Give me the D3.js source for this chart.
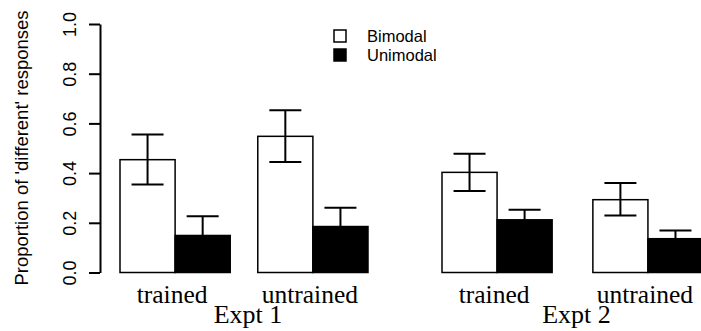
<!DOCTYPE html>
<html>
<head>
<meta charset="utf-8">
<script src="https://cdn.jsdelivr.net/npm/d3@7"></script>
<style>
  body { margin: 0; background: #fff; }
  svg { display: block; }
</style>
</head>
<body>
<div id="chart"></div>
<script>
// values
var experiments = ["Expt 1", "Expt 2"];
var conditions = ["trained", "untrained"];
var series = ["Bimodal", "Unimodal"];

// one entry per experiment x condition: E1 trained, E1 untrained, E2 trained, E2 untrained
var bimodalMean = [0.454, 0.548, 0.403, 0.293];
var bimodalLow  = [0.354, 0.445, 0.328, 0.229];
var bimodalHigh = [0.555, 0.653, 0.478, 0.360];
var unimodalMean = [0.149, 0.185, 0.212, 0.136];
var unimodalLow  = [0.072, 0.109, 0.171, 0.103];
var unimodalHigh = [0.226, 0.261, 0.253, 0.169];

var yTicks = [0, 0.2, 0.4, 0.6, 0.8, 1.0];

var width = 701, height = 331;

var svg = d3.select("#chart").append("svg")
  .attr("width", width)
  .attr("height", height);

var y = d3.scaleLinear().domain([0, 1]).range([272.5, 24]);

// each experiment gets its own stretch of the x axis
var exptRange = {"Expt 1": [120, 368], "Expt 2": [442, 703]};
var exptPad = {"Expt 1": 0.2, "Expt 2": 0.27};

var rows = [];
experiments.forEach(function(e, ei) {
  conditions.forEach(function(c, ci) {
    var i = ei * 2 + ci;
    rows.push({expt: e, cond: c, vals: [
      {s: "Bimodal", mean: bimodalMean[i], lo: bimodalLow[i], hi: bimodalHigh[i]},
      {s: "Unimodal", mean: unimodalMean[i], lo: unimodalLow[i], hi: unimodalHigh[i]}
    ]});
  });
});

var xGroup = {};
experiments.forEach(function(e) {
  xGroup[e] = d3.scaleBand().domain(conditions).range(exptRange[e]).paddingInner(exptPad[e]);
});
var fill = d3.scaleOrdinal().domain(series).range(["#fff", "#000"]);

rows.forEach(function(r) {
  var gx = xGroup[r.expt];
  var xs = d3.scaleBand().domain(series).range([0, gx.bandwidth()]);
  var g = svg.append("g").attr("transform", "translate(" + gx(r.cond) + ",0)");

  g.selectAll("rect").data(r.vals).enter().append("rect")
    .attr("x", function(d) { return xs(d.s); })
    .attr("y", function(d) { return y(d.mean); })
    .attr("width", xs.bandwidth())
    .attr("height", function(d) { return y(0) - y(d.mean); })
    .attr("fill", function(d) { return fill(d.s); })
    .attr("stroke", "#000")
    .attr("stroke-width", 1.5);

  // error bars
  r.vals.forEach(function(d) {
    var cx = xs(d.s) + xs.bandwidth() / 2;
    g.append("line").attr("x1", cx).attr("x2", cx)
      .attr("y1", y(d.lo)).attr("y2", y(d.hi))
      .attr("stroke", "#000").attr("stroke-width", 2);
    [d.lo, d.hi].forEach(function(v) {
      g.append("line").attr("x1", cx - 16).attr("x2", cx + 16)
        .attr("y1", y(v)).attr("y2", y(v))
        .attr("stroke", "#000").attr("stroke-width", 2);
    });
  });

  svg.append("text")
    .attr("x", gx(r.cond) + gx.bandwidth() / 2 - 3)
    .attr("y", 303)
    .attr("text-anchor", "middle")
    .style("font-family", "'Liberation Serif', 'Times New Roman', serif")
    .style("font-size", "25.5px")
    .text(r.cond);
});

experiments.forEach(function(e) {
  var rg = exptRange[e];
  svg.append("text")
    .attr("x", (rg[0] + rg[1]) / 2 + 4)
    .attr("y", 323)
    .attr("text-anchor", "middle")
    .style("font-family", "'Liberation Serif', 'Times New Roman', serif")
    .style("font-size", "26px")
    .text(e);
});

// y axis
var yAxis = svg.append("g")
  .attr("transform", "translate(100,0)")
  .call(d3.axisLeft(y).tickValues(yTicks).tickFormat(d3.format(".1f")).tickSize(11).tickSizeOuter(0));
yAxis.select(".domain").attr("stroke-width", 2);
yAxis.selectAll(".tick line").attr("stroke-width", 2);
yAxis.selectAll(".tick text")
  .attr("transform", "rotate(-90)")
  .attr("x", 0)
  .attr("y", -24)
  .attr("dy", 0)
  .attr("text-anchor", "middle")
  .style("font-family", "'Liberation Sans', Arial, sans-serif")
  .style("font-size", "18px")
  .attr("fill", "#000");

svg.append("text")
  .attr("transform", "translate(28,148) rotate(-90)")
  .attr("text-anchor", "middle")
  .style("font-family", "'Liberation Sans', Arial, sans-serif")
  .style("font-size", "18.5px")
  .text("Proportion of 'different' responses");

// legend
var legend = svg.append("g").attr("transform", "translate(334,29)");
series.forEach(function(s, i) {
  legend.append("rect")
    .attr("x", 0).attr("y", i * 19 + 1)
    .attr("width", 12).attr("height", 12)
    .attr("fill", fill(s))
    .attr("stroke", "#000").attr("stroke-width", 1.5);
  legend.append("text")
    .attr("x", 33).attr("y", i * 19 + 13)
    .style("font-family", "'Liberation Sans', Arial, sans-serif")
    .style("font-size", "16.5px")
    .text(s);
});
</script>
</body>
</html>
